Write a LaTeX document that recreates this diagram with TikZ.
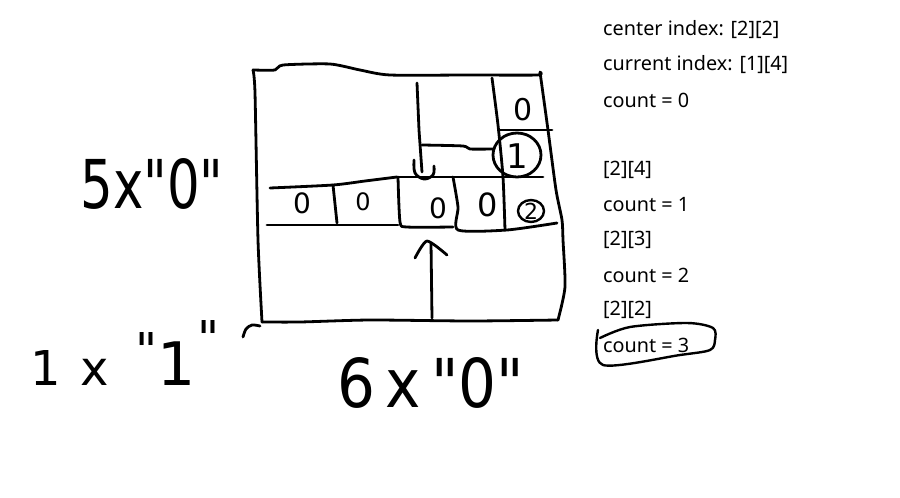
\documentclass[tikz,border=0pt]{standalone}
\usepackage{fontspec}
\setmainfont{Noto Sans}
\newfontfamily\handfont{DejaVu Sans}
\begin{document}
\begin{tikzpicture}[x=1pt,y=-1pt,
  ink/.style={line width=2.8pt,line cap=round,line join=round},
  note/.style={anchor=west,inner sep=0pt,font=\fontsize{19.8}{22}\selectfont},
  digit/.style={inner sep=0pt,font=\handfont\fontsize{28}{30}\selectfont},
  hand/.style={inner sep=0pt,font=\handfont}]
\useasboundingbox[fill=white] (0,0) rectangle (900,498);

% outer box
\draw[ink] plot[smooth,tension=0.4] coordinates {(253,70)(255,93)(258,240)(262,322)};
\draw[ink] plot[smooth,tension=0.4] coordinates {(253,70)(275,70)(283,65)(330,64)(360,70)(390,75)(470,75)(537,75)(540,72)};
\draw[ink] plot[smooth,tension=0.4] coordinates {(540,72)(548,130)(556,190)(562,220)(563,240)(565,287)(558,320)};
\draw[ink] plot[smooth,tension=0.4] coordinates {(262,322)(300,322)(370,320)(470,321)(558,320)};

% down arrow with hook
\draw[ink] (417,83) -- (419,130) -- (422,172);
\draw[ink] plot[smooth,tension=0.6] coordinates {(414,160)(415,173)(424,179)(433,175)(434,166)};
% horizontal line to circle
\draw[ink] plot[smooth,tension=0.4] coordinates {(422,145)(463,146)(470,149)(493,149)};
% slanted vertical line on the right
\draw[ink] plot[smooth,tension=0.4] coordinates {(492,78)(498,125)(503,177)(505,230)};
% line below the top 0
\draw[ink] (500,130) -- (552,130);
% circle round 1
\draw[ink] (517,155) ellipse (24 and 22);
% row top
\draw[ink] plot[smooth,tension=0.4] coordinates {(270,188)(333,185)(365,181)(397,177)};
\draw[ink] (398,177) -- (543,177);
% row bottom
\draw[ink] (267,225) -- (398,225);
\draw[ink] plot[smooth,tension=0.4] coordinates {(398,177)(400,222)(407,227)(453,227)};
\draw[ink] plot[smooth,tension=0.4] coordinates {(453,177)(458,207)(458,230)(507,230)(557,223)};
\draw[ink] (333,185) -- (337,223);

% up arrow
\draw[ink] (432,318) -- (431,243);
\draw[ink] plot[smooth,tension=0.4] coordinates {(415,258)(427,241)(447,255)};

% digits
\node[digit] (d1) at (302,203) {0};
\node[digit,font=\handfont\fontsize{24}{26}\selectfont] (d2) at (363,202) {0};
\node[digit] (d3) at (438,208) {0};
\node[digit,font=\handfont\fontsize{32}{34}\selectfont] (d4) at (488,205) {0};
\node[digit,font=\handfont\fontsize{22}{24}\selectfont] (d5) at (531,211) {2};
\draw[ink,line width=2.4pt] (d5) ellipse (13 and 11);
\node[digit,font=\handfont\fontsize{30}{32}\selectfont] (d6) at (523,110) {0};
\node[digit,font=\handfont\fontsize{34}{36}\selectfont] (d7) at (517,156) {1};

% handwritten labels
\node[hand] (five) at (152,184) {\resizebox{143pt}{50pt}{5x"0"}};
\node[hand] (six) at (431,383) {\resizebox{186pt}{50pt}{6\,x\,"0"}};
\node[hand,anchor=base west,font=\handfont\fontsize{48}{50}\selectfont] (one) at (30,385)
  {1\hspace{20pt}x\hspace{26pt}\raisebox{18pt}{"}{\fontsize{60}{62}\selectfont 1}\hspace{2pt}\raisebox{30pt}{"}};
\draw[ink] plot[smooth,tension=0.5] coordinates {(243,337)(246,329)(252,325)(260,326)};

% notes
\node[note] (n1) at (603,30) {center index: [2][2]};
\node[note] (n2) at (603,65) {current index: [1][4]};
\node[note] (n3) at (603,100) {count = 0};
\node[note] (n4) at (603,170) {[2][4]};
\node[note] (n5) at (603,205) {count = 1};
\node[note] (n6) at (603,240) {[2][3]};
\node[note] (n7) at (603,275) {count = 2};
\node[note] (n8) at (603,310) {[2][2]};
\node[note] (n9) at (603,345) {count = 3};
\draw[ink,line width=2.4pt] plot[smooth,tension=0.5] coordinates {(598,330)(603,365)(680,355)(710,350)(715,340)(713,328)(687,323)(630,327)(600,338)};
\end{tikzpicture}
\end{document}
